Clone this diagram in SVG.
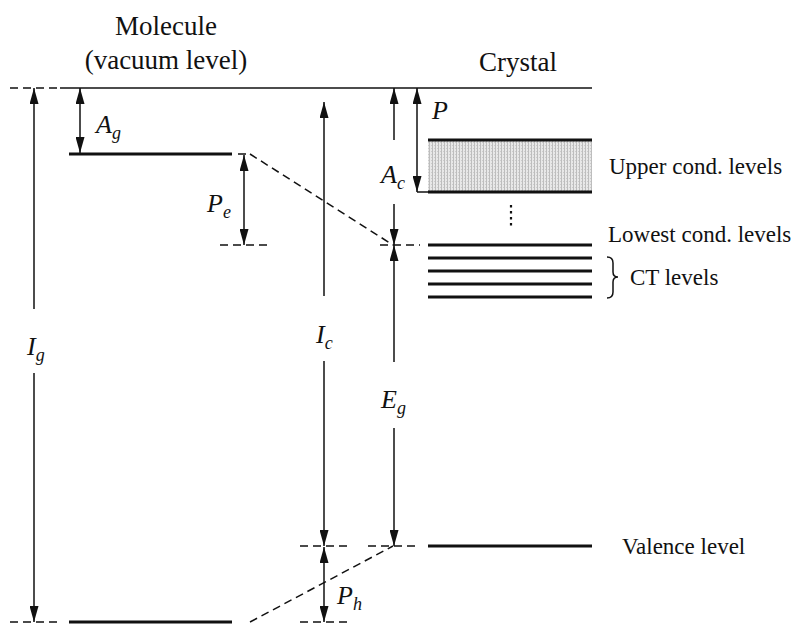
<svg xmlns="http://www.w3.org/2000/svg" width="798" height="624" viewBox="0 0 798 624">
<style>
.t{font-family:"Liberation Serif","Times New Roman",serif;fill:#111}
.h{font-size:27px}
.r{font-size:23px}
.m{font-size:26px;font-style:italic}
.s{font-size:18px;font-style:italic}
.ln{stroke:#111;stroke-width:1.5;fill:none}
.lv{stroke:#111;stroke-width:3;fill:none}
.d{stroke:#111;stroke-width:1.5;fill:none;stroke-dasharray:8 5}
</style>
<defs>
<marker id="ah" viewBox="0 0 16 9" refX="16" refY="4.5" markerWidth="16" markerHeight="9" markerUnits="userSpaceOnUse" orient="auto-start-reverse">
<path d="M0,0 L16,4.5 L0,9 Z" fill="#111"/>
</marker>
<pattern id="stip" width="3" height="3" patternUnits="userSpaceOnUse">
<rect width="3" height="3" fill="#e8e8e8"/>
<rect x="0" y="0" width="1" height="3" fill="#bdbdbd"/>
<rect x="2" y="1" width="1" height="1" fill="#cccccc"/>
</pattern>
</defs>

<g id="titles">
<text class="t h" x="166" y="35" text-anchor="middle">Molecule</text>
<text class="t h" x="166" y="69" text-anchor="middle">(vacuum level)</text>
<text class="t h" x="518" y="71" text-anchor="middle">Crystal</text>
</g>

<g id="vacuum-level">
<line class="d" x1="10" y1="88" x2="60" y2="88"/>
<line class="ln" x1="60" y1="88" x2="592" y2="88"/>
</g>

<g id="molecule-affinity-level">
<line class="lv" x1="69" y1="154" x2="232" y2="154"/>
<line class="d" x1="238" y1="154" x2="250" y2="154"/>
</g>

<g id="molecule-ionization-level">
<line class="d" x1="10" y1="622" x2="60" y2="622"/>
<line class="lv" x1="69" y1="622" x2="232" y2="622"/>
</g>

<g id="upper-cond-band">
<rect x="428" y="140" width="164" height="52" fill="url(#stip)"/>
<line class="lv" x1="428" y1="140" x2="592" y2="140"/>
<line class="lv" x1="428" y1="192" x2="592" y2="192"/>
<text class="t r" x="609" y="174">Upper cond. levels</text>
</g>

<g id="dots">
<line x1="511" y1="205" x2="511" y2="228" stroke="#111" stroke-width="2.2" stroke-dasharray="2.5 3.5"/>
</g>

<g id="lowest-cond-level">
<line class="lv" x1="428" y1="245" x2="592" y2="245"/>
<text class="t r" x="608" y="242">Lowest cond. levels</text>
</g>

<g id="ct-levels">
<line class="lv" x1="428" y1="258" x2="592" y2="258"/>
<line class="lv" x1="428" y1="271" x2="592" y2="271"/>
<line class="lv" x1="428" y1="284" x2="592" y2="284"/>
<line class="lv" x1="428" y1="297" x2="592" y2="297"/>
<path d="M607,257 Q613,257 613,263 L613,272 Q613,277 618,277 Q613,277 613,282 L613,292 Q613,298 607,298" fill="none" stroke="#111" stroke-width="1.5"/>
<text class="t r" x="630" y="285">CT levels</text>
</g>

<g id="valence-level">
<line class="lv" x1="428" y1="546" x2="592" y2="546"/>
<text class="t r" x="622" y="554">Valence level</text>
</g>

<g id="connectors">
<line class="d" x1="250" y1="154" x2="393" y2="245"/>
<line class="d" x1="250" y1="622" x2="393" y2="546"/>
<line class="d" x1="220" y1="245" x2="268" y2="245"/>
<line class="d" x1="380" y1="245" x2="420" y2="245"/>
<line class="d" x1="300" y1="546" x2="348" y2="546"/>
<line class="d" x1="368" y1="546" x2="418" y2="546"/>
<line class="d" x1="300" y1="622" x2="348" y2="622"/>

<line class="ln" x1="34" y1="309" x2="34" y2="88" marker-end="url(#ah)"/>
<line class="ln" x1="34" y1="373" x2="34" y2="622" marker-end="url(#ah)"/>
<line class="ln" x1="80" y1="88" x2="80" y2="153" marker-start="url(#ah)" marker-end="url(#ah)"/>
<line class="ln" x1="244" y1="155" x2="244" y2="245" marker-start="url(#ah)" marker-end="url(#ah)"/>
<line class="ln" x1="324" y1="296" x2="324" y2="102" marker-end="url(#ah)"/>
<line class="ln" x1="324" y1="361" x2="324" y2="546" marker-end="url(#ah)"/>
<line class="ln" x1="324" y1="547" x2="324" y2="622" marker-start="url(#ah)" marker-end="url(#ah)"/>
<line class="ln" x1="394" y1="140" x2="394" y2="88" marker-end="url(#ah)"/>
<line class="ln" x1="394" y1="204" x2="394" y2="245" marker-end="url(#ah)"/>
<line class="ln" x1="394" y1="362" x2="394" y2="245" marker-end="url(#ah)"/>
<line class="ln" x1="394" y1="428" x2="394" y2="546" marker-end="url(#ah)"/>
<line class="ln" x1="417" y1="88" x2="417" y2="192" marker-start="url(#ah)" marker-end="url(#ah)"/>
<line class="ln" x1="417" y1="192" x2="428" y2="192"/>
</g>

<g id="labels">
<text class="t m" x="96" y="133">A<tspan class="s" dy="6">g</tspan></text>
<text class="t m" x="207" y="212">P<tspan class="s" dy="6">e</tspan></text>
<text class="t m" x="27" y="355">I<tspan class="s" dy="6">g</tspan></text>
<text class="t m" x="316" y="343">I<tspan class="s" dy="6">c</tspan></text>
<text class="t m" x="381" y="408">E<tspan class="s" dy="6">g</tspan></text>
<text class="t m" x="381" y="183">A<tspan class="s" dy="6">c</tspan></text>
<text class="t m" x="432" y="119">P</text>
<text class="t m" x="337" y="604">P<tspan class="s" dy="6">h</tspan></text>
</g>
</svg>
